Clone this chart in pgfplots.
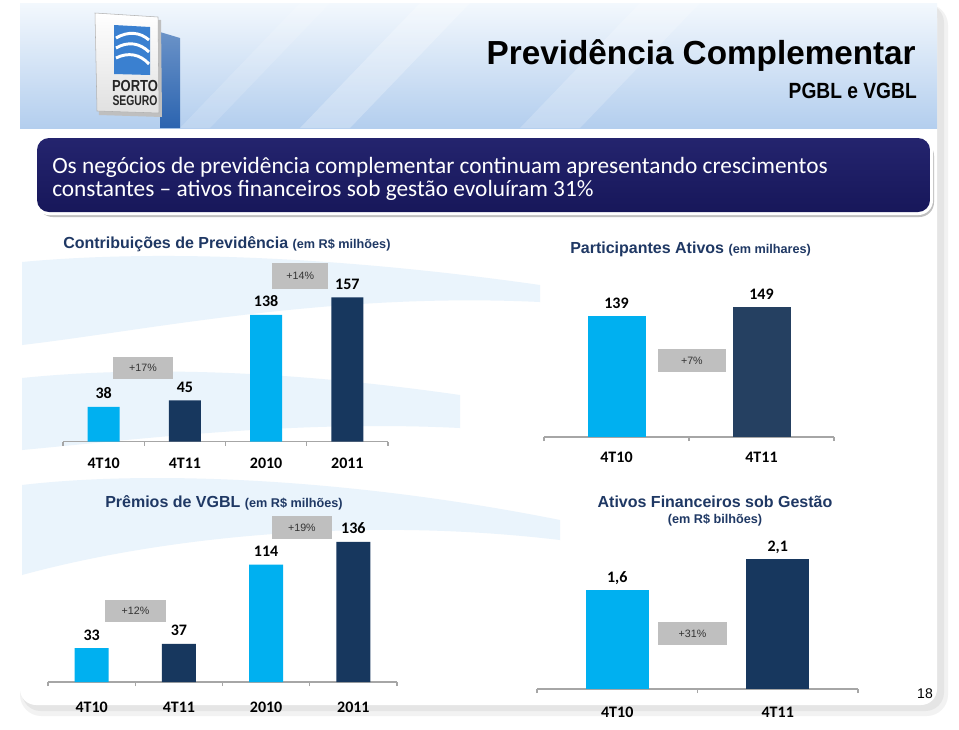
\documentclass[border=0pt]{standalone}
\usepackage{fontspec}
\setmainfont{Carlito}
\newfontfamily\arial{Liberation Sans}
\usepackage{pgfplots}
\pgfplotsset{compat=1.18}

\definecolor{lightbar}{HTML}{00B0F0}
\definecolor{darkbar}{HTML}{17375E}
\definecolor{darkbartwo}{HTML}{254061}
\definecolor{navytxt}{HTML}{1F3864}
\definecolor{bannertop}{HTML}{24246E}
\definecolor{bannerbot}{HTML}{17175A}
\definecolor{boxgray}{HTML}{BFBFBF}
\definecolor{axgray}{HTML}{A6A6A6}
\definecolor{hdrtop}{HTML}{F3F8FD}
\definecolor{hdrbot}{HTML}{B3CEEE}
\definecolor{swoosh}{HTML}{EAF4FC}
\definecolor{logoblue}{HTML}{3A80D0}
\definecolor{pole}{HTML}{2B64B0}

\tikzset{pctbox/.style={fill=boxgray, inner sep=0pt, font=\arial\fontsize{8}{8}\selectfont, text=black!80}}

\pgfplotsset{
  slide/.style={
    scale only axis, anchor=south west, clip=false,
    ybar, bar shift=0pt,
    axis x line*=bottom, axis y line=none, ytick=\empty,
    x axis line style={axgray, line width=0.9pt},
    ymin=0,
    major tick length=0pt,
    xticklabel style={font=\bfseries\fontsize{12}{12}\selectfont, anchor=base, text=black},
    extra x tick style={major tick length=3pt, tick align=outside, tick style={axgray, line width=0.9pt}},
    extra x tick labels={},
    /pgf/number format/assume math mode=true,
    nodes near coords,
    every node near coord/.append style={font=\bfseries\fontsize{12}{12}\selectfont, anchor=base, yshift=6pt, text=black},
  },
}

\begin{document}
\begin{tikzpicture}
\useasboundingbox (0,0) rectangle (719.25pt,-546.75pt);
\begin{scope}[x=0.75pt, y=-0.75pt]
  % page and panel
  \fill[white] (0,0) rectangle (959,729);
  \fill[black!5, rounded corners=16] (20,4) rectangle (948,716);
  \fill[black!10, rounded corners=14] (22,4) rectangle (944,711);
  \fill[white, rounded corners=12] (20,2) rectangle (937,705);
  % header
  \shade[top color=hdrtop, bottom color=hdrbot] (20,3) rectangle (937,128);
  \fill[white, opacity=0.25] (300,128) -- (420,3) -- (470,3) -- (350,128) -- cycle;
  \fill[white, opacity=0.2] (520,128) -- (640,3) -- (700,3) -- (580,128) -- cycle;
  \fill[white, opacity=0.15] (180,128) -- (300,3) -- (330,3) -- (210,128) -- cycle;
  % watermark swooshes
  \fill[swoosh] (22,262) .. controls (150,250) and (330,255) .. (540,285) -- (540,302) .. controls (330,292) and (150,330) .. (22,345) -- cycle;
  \fill[swoosh] (22,378) .. controls (150,365) and (300,372) .. (460,395) -- (460,428) .. controls (300,420) and (150,438) .. (22,450) -- cycle;
  \fill[swoosh] (22,485) .. controls (150,470) and (350,478) .. (560,520) -- (560,540) .. controls (350,515) and (150,540) .. (22,575) -- cycle;
  % logo
  \shade[top color=pole!70, bottom color=pole] (160,32) -- (180,38) -- (180,128) -- (160,128) -- cycle;
  \fill[black!25] (97,16) -- (161,20) -- (162,117) -- (99,115) -- cycle;
  \shade[top color=white, bottom color=black!12, draw=black!30] (95,13) -- (158,17) -- (159,113) -- (97,111) -- cycle;
  \fill[logoblue] (114,25) -- (150,27) -- (150,75) -- (114,74) -- cycle;
  \draw[white, line width=2.2] (116,38) .. controls (128,31) and (140,32) .. (149,40);
  \draw[white, line width=2.2] (116,48) .. controls (128,41) and (140,43) .. (149,52);
  \draw[white, line width=2.2] (116,58) .. controls (128,52) and (140,54) .. (149,64);
  \node[anchor=base, inner sep=0, text=black!85] at (135,91) {\resizebox{34.5pt}{\height}{\arial\bfseries\fontsize{12}{12}\selectfont PORTO}};
  \node[anchor=base, inner sep=0, text=black!85] at (135,105) {\resizebox{33.75pt}{\height}{\arial\bfseries\fontsize{10.5}{10.5}\selectfont SEGURO}};
  % title
  \node[anchor=base east, inner sep=0] at (916,64) {\resizebox{321.75pt}{\height}{\arial\bfseries\fontsize{25}{25}\selectfont Previdência Complementar}};
  \node[anchor=base east, inner sep=0] at (917,98) {\resizebox{96pt}{\height}{\arial\bfseries\fontsize{16.5}{16.5}\selectfont PGBL e VGBL}};
  % banner
  \fill[black!25, rounded corners=11] (38,141) rectangle (934,217);
  \fill[white, rounded corners=11] (34,135) rectangle (933,215);
  \shade[top color=bannertop, bottom color=bannerbot, rounded corners=9] (37,138) rectangle (930,212);
  \node[anchor=base west, inner sep=0, text=white] at (52,173) {\fontsize{17.5}{17.5}\selectfont Os negócios de previdência complementar continuam apresentando crescimentos};
  \node[anchor=base west, inner sep=0, text=white] at (52,196) {\fontsize{17.5}{17.5}\selectfont constantes -- ativos financeiros sob gestão evoluíram 31\%};
  % chart titles
  \node[anchor=base west, inner sep=0, text=navytxt] at (63,248) {\arial\bfseries\fontsize{12}{12}\selectfont Contribuições de Previdência \fontsize{9.5}{9.5}\selectfont(em R\$ milhões)};
  \node[anchor=base west, inner sep=0, text=navytxt] at (570,253) {\arial\bfseries\fontsize{12}{12}\selectfont Participantes Ativos \fontsize{9.5}{9.5}\selectfont(em milhares)};
  \node[anchor=base west, inner sep=0, text=navytxt] at (105,507) {\arial\bfseries\fontsize{12}{12}\selectfont Prêmios de VGBL \fontsize{9.5}{9.5}\selectfont(em R\$ milhões)};
  \node[anchor=base, inner sep=0, text=navytxt] at (715,507) {\arial\bfseries\fontsize{12}{12}\selectfont Ativos Financeiros sob Gestão};
  \node[anchor=base, inner sep=0, text=navytxt] at (715,523) {\arial\bfseries\fontsize{9.5}{9.5}\selectfont (em R\$ bilhões)};
  \node[anchor=base, inner sep=0] at (925,698) {\arial\fontsize{10.5}{10.5}\selectfont 18};
\end{scope}

% Contribuições de Previdência
\begin{axis}[slide,
  at={(47.25pt,-331.3pt)}, width=243.75pt, height=120pt,
  xmin=-0.5, xmax=3.5, ymax=173.9, bar width=24pt,
  xtick={0,1,2,3}, xticklabels={4T10,4T11,2010,2011},
  extra x ticks={-0.5,0.5,1.5,2.5,3.5},
  xticklabel style={yshift=-19.7pt},
]
\addplot[fill=lightbar, draw=none] coordinates {(0,38) (2,138)};
\addplot[fill=darkbar, draw=none] coordinates {(1,45) (3,157)};
\node[pctbox, minimum width=45pt, minimum height=16.5pt] at (axis cs:0.485,80.1) {+17\%};
\node[pctbox, minimum width=42pt, minimum height=19.5pt] at (axis cs:2.42,180) {+14\%};
\end{axis}

% Participantes Ativos
\begin{axis}[slide,
  at={(408pt,-327.75pt)}, width=217.5pt, height=112.5pt,
  xmin=-0.5, xmax=1.5, ymax=172.4, bar width=43.5pt,
  xtick={0,1}, xticklabels={4T10,4T11},
  extra x ticks={-0.5,0.5,1.5},
  xticklabel style={yshift=-18.75pt},
]
\addplot[fill=lightbar, draw=none] coordinates {(0,139)};
\addplot[fill=darkbartwo, draw=none] coordinates {(1,149)};
\node[pctbox, minimum width=51pt, minimum height=17.25pt] at (axis cs:0.52,87.9) {+7\%};
\end{axis}

% Prêmios de VGBL
\begin{axis}[slide,
  at={(36pt,-511.5pt)}, width=261.75pt, height=120pt,
  xmin=-0.5, xmax=3.5, ymax=155.3, bar width=25.5pt,
  xtick={0,1,2,3}, xticklabels={4T10,4T11,2010,2011},
  extra x ticks={-0.5,0.5,1.5,2.5,3.5},
  xticklabel style={yshift=-22.5pt},
]
\addplot[fill=lightbar, draw=none] coordinates {(0,33) (2,114)};
\addplot[fill=darkbar, draw=none] coordinates {(1,37) (3,136)};
\node[pctbox, minimum width=45.75pt, minimum height=16.5pt] at (axis cs:0.503,68.9) {+12\%};
\node[pctbox, minimum width=45pt, minimum height=17.25pt] at (axis cs:2.41,150) {+19\%};
\end{axis}

% Ativos Financeiros sob Gestão
\begin{axis}[slide,
  at={(402.75pt,-516.75pt)}, width=240.75pt, height=112.5pt,
  xmin=-0.5, xmax=1.5, ymax=2.427, bar width=47.25pt,
  xtick={0,1}, xticklabels={4T10,4T11},
  extra x ticks={-0.5,0.5,1.5},
  xticklabel style={yshift=-21pt},
  /pgf/number format/use comma,
]
\addplot[fill=lightbar, draw=none] coordinates {(0,1.6)};
\addplot[fill=darkbar, draw=none] coordinates {(1,2.1)};
\node[pctbox, minimum width=51.75pt, minimum height=17.25pt] at (axis cs:0.469,0.898) {+31\%};
\end{axis}
\end{tikzpicture}
\end{document}
